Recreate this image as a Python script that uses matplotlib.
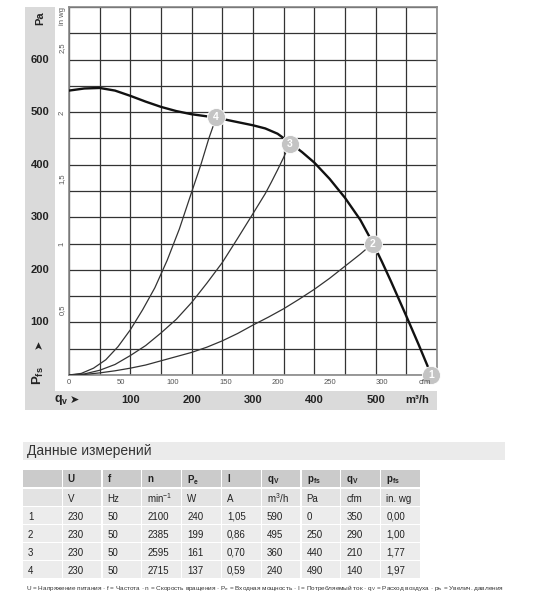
import numpy as np
import matplotlib
matplotlib.use("Agg")
import matplotlib.pyplot as plt
from matplotlib.patches import Rectangle
from matplotlib import transforms

plt.rcParams['font.family'] = ['Liberation Sans', 'DejaVu Sans']
plt.rcParams['mathtext.fontset'] = 'custom'
plt.rcParams['mathtext.rm'] = 'Liberation Sans'
plt.rcParams['mathtext.bf'] = 'Liberation Sans:bold'

# fan curve (m3/h, Pa)
fan_q = [0, 25, 50, 75, 100, 125, 150, 175, 200, 225, 250, 275, 300, 320, 340,
         360, 380, 400, 425, 450, 475, 495, 510, 525, 550, 570, 590]
fan_p = [541, 545, 546, 541, 531, 520, 510, 502, 496, 492, 487, 481, 475, 469,
         459, 442, 424, 404, 373, 337, 295, 252, 216, 178, 112, 58, 2]

# system curves through the operating points
sys4_q = [0, 20, 40, 60, 80, 100, 120, 140, 160, 180, 200, 215, 228, 240]
sys4_p = [0, 3, 13, 29, 54, 86, 124, 166, 218, 278, 348, 400, 450, 490]
sys3_q = [0, 25, 50, 75, 100, 125, 150, 175, 200, 225, 250, 275, 300, 320,
          330, 340, 350, 360]
sys3_p = [0, 2, 9, 20, 37, 56, 80, 106, 138, 175, 214, 260, 307, 345,
          367, 390, 414, 440]
sys2_q = [0, 25, 50, 75, 100, 125, 150, 175, 200, 225, 250, 275, 300, 325,
          350, 375, 400, 425, 450, 475, 495]
sys2_p = [0, 1, 4, 8, 13, 19, 27, 35, 43, 53, 65, 79, 95, 110,
          126, 144, 163, 184, 207, 230, 250]

# operating points
op_no = ['1', '2', '3', '4']
op_q = [590, 495, 360, 240]
op_p = [0, 250, 440, 490]

pa_ticks = [100, 200, 300, 400, 500, 600]
inwg_ticks = [0.5, 1, 1.5, 2, 2.5]
inwg_labels = ['0,5', '1', '1,5', '2', '2,5']
cfm_ticks = [0, 50, 100, 150, 200, 250, 300]
m3h_ticks = [100, 200, 300, 400, 500]

# table
col_head1 = ['', 'U', 'f', 'n', r'P$_\mathregular{e}$', 'I', r'q$_\mathregular{V}$',
             r'p$_\mathregular{fs}$', r'q$_\mathregular{V}$', r'p$_\mathregular{fs}$']
col_head2 = ['', 'V', 'Hz', r'min$^\mathregular{-1}$', 'W', 'A', r'm$^\mathregular{3}$/h',
             'Pa', 'cfm', 'in. wg']
rows = [
    ['1', '230', '50', '2100', '240', '1,05', '590', '0', '350', '0,00'],
    ['2', '230', '50', '2385', '199', '0,86', '495', '250', '290', '1,00'],
    ['3', '230', '50', '2595', '161', '0,70', '360', '440', '210', '1,77'],
    ['4', '230', '50', '2715', '137', '0,59', '240', '490', '140', '1,97'],
]
footnote = (r'U = Напряжение питания · f = Частота · n = Скорость вращения · '
            r'P$_\mathregular{e}$ = Входная мощность · I = Потребляемый ток · '
            r'q$_\mathregular{V}$ = Расход воздуха · p$_\mathregular{fs}$ = Увелич. давления')

W, H = 550, 600
CFM = 1.699    # m3/h per cfm
INWG = 249.09  # Pa per in wg


def fx(x):
    return x / W


def fy(y):
    return 1 - y / H


fig = plt.figure(figsize=(5.5, 6), dpi=100)
ax = fig.add_axes([fx(69), fy(375), 368 / W, 368 / H])

# grey label bands
band = '#dadada'
fig.patches.append(Rectangle((fx(25), fy(410)), 30 / W, 403 / H,
                             transform=fig.transFigure, color=band, lw=0))
fig.patches.append(Rectangle((fx(55), fy(410)), 382 / W, 19 / H,
                             transform=fig.transFigure, color=band, lw=0))

ax.set_xlim(0, 600)
ax.set_ylim(0, 700)
ax.set_xticks(np.arange(0, 601, 50))
ax.set_yticks(np.arange(0, 701, 50))
ax.tick_params(length=0, labelbottom=False, labelleft=False)
ax.grid(True, color='#333333', lw=0.9)
for s in ax.spines.values():
    s.set_color('#888888')
    s.set_linewidth(1.2)

ax.plot(sys4_q, sys4_p, color='#333333', lw=0.9, zorder=3)
ax.plot(sys3_q, sys3_p, color='#333333', lw=0.9, zorder=3)
ax.plot(sys2_q, sys2_p, color='#333333', lw=0.9, zorder=3)
ax.plot(fan_q, fan_p, color='#111111', lw=1.7, zorder=4)

for n, q, p in zip(op_no, op_q, op_p):
    ax.plot(q, p, 'o', ms=13, color='#c4c4c4', mec='white', mew=0.6,
            zorder=5, clip_on=False)
    ax.text(q, p, n, color='white', fontsize=7.5, fontweight='bold',
            ha='center', va='center', zorder=6, clip_on=False)

# axis labels
ty = transforms.blended_transform_factory(fig.transFigure, ax.transData)
tx = transforms.blended_transform_factory(ax.transData, fig.transFigure)

for v in pa_ticks:
    t = fig.text(fx(40), 0, str(v), transform=ty, fontsize=8, fontweight='bold',
                 ha='center', va='center', color='#222222')
    t.set_y(v)
fig.text(fx(40), fy(18), 'Pa', fontsize=8, fontweight='bold', rotation=90,
         ha='center', va='center', color='#222222')
fig.text(fx(38), fy(376), r'$\mathbf{P}_\mathbf{fs}$', fontsize=9.5, rotation=90,
         ha='center', va='center', color='#222222')
fig.text(fx(39), fy(344), '➤', family='DejaVu Sans', fontsize=8, rotation=90,
         ha='center', va='center', color='#222222')

for v, lab in zip(inwg_ticks, inwg_labels):
    t = fig.text(fx(62), 0, lab, transform=ty, fontsize=5.5, rotation=90,
                 ha='center', va='center', color='#555555')
    t.set_y(v * INWG)
fig.text(fx(62), fy(16), 'in wg', fontsize=5.5, rotation=90,
         ha='center', va='center', color='#555555')

for v in cfm_ticks:
    t = fig.text(0, fy(383), str(v), transform=tx, fontsize=5.5,
                 ha='center', va='center', color='#555555')
    t.set_x(v * CFM)
fig.text(fx(425), fy(383), 'cfm', fontsize=5.5, ha='center', va='center',
         color='#555555')

for v in m3h_ticks:
    t = fig.text(0, fy(400), str(v), transform=tx, fontsize=8, fontweight='bold',
                 ha='center', va='center', color='#222222')
    t.set_x(v)
fig.text(fx(417), fy(400), r'm³/h', fontsize=8, fontweight='bold',
         ha='center', va='center', color='#222222')
fig.text(fx(61), fy(400), r'$\mathbf{q}_\mathbf{v}$', fontsize=9,
         ha='center', va='center', color='#222222')
fig.text(fx(74), fy(400), '➤', family='DejaVu Sans', fontsize=8,
         ha='center', va='center', color='#222222')

# table title band
fig.patches.append(Rectangle((fx(23), fy(460)), 482 / W, 18 / H,
                             transform=fig.transFigure, color='#ebebeb', lw=0))
fig.text(fx(27), fy(451), 'Данные измерений', fontsize=10, ha='left',
         va='center', color='#333333')

col_w = 39.8
x0 = 23
row_tops = [470, 489, 507, 525, 543, 561]
row_h = 17
fills = ['#cbcbcb', '#e3e3e3'] + ['#ececec'] * 4
table = [col_head1, col_head2] + rows
for r, (top, cells) in enumerate(zip(row_tops, table)):
    for c, txt in enumerate(cells):
        left = x0 + c * col_w
        fig.patches.append(Rectangle((fx(left), fy(top + row_h)), (col_w - 1.2) / W,
                                     row_h / H, transform=fig.transFigure,
                                     color=fills[r], lw=0))
        if txt:
            fig.text(fx(left + 5), fy(top + row_h / 2), txt, fontsize=7,
                     fontweight='bold' if r == 0 else 'normal',
                     ha='left', va='center_baseline', color='#222222')

fig.text(fx(26), fy(588), footnote, fontsize=4.6, ha='left', va='center',
         color='#333333')

fig.savefig('out.png', dpi=100)
